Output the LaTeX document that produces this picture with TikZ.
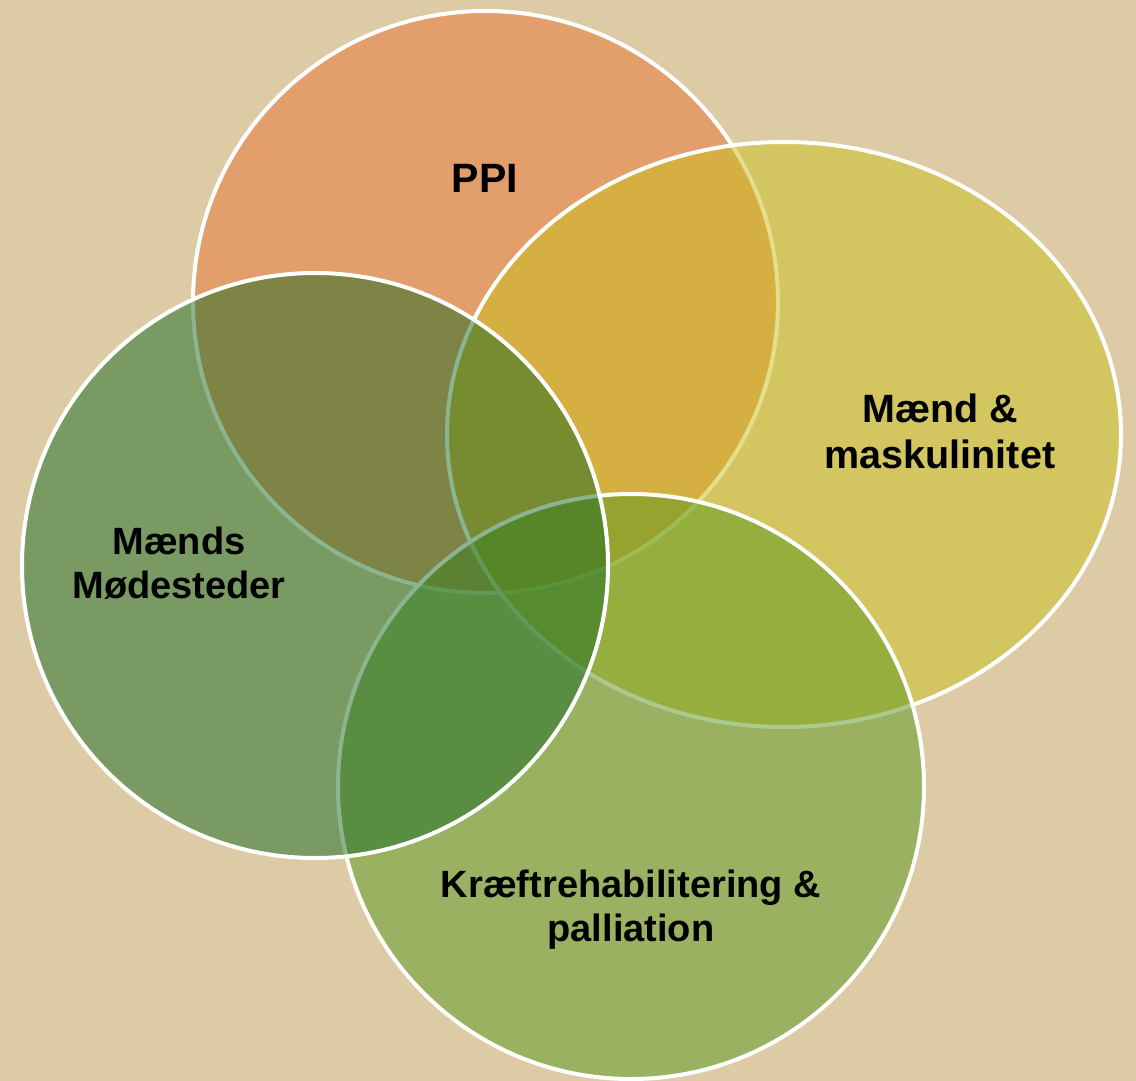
\documentclass[tikz,border=0pt]{standalone}
\usepackage{fontspec}
\setmainfont{Liberation Sans}
\usetikzlibrary{shapes.geometric}
\definecolor{beige}{RGB}{221,203,166}
\definecolor{ppiorange}{RGB}{231,115,50}
\definecolor{maendyellow}{RGB}{203,193,26}
\definecolor{kraeftgreen}{RGB}{89,153,30}
\definecolor{moedegreen}{RGB}{25,107,34}
\tikzstyle{venn} = [ellipse, inner sep=0pt, draw=white, line width=4pt, fill opacity=0.5]
\tikzstyle{vtext} = [align=center, text=black, font=\bfseries\fontsize{38}{44}\selectfont]

\begin{document}
\begin{tikzpicture}[x=1pt, y=-1pt]
		\useasboundingbox (0,0) rectangle (1136,1081);
		\fill [beige] (0,0) rectangle (1136,1081);
		\node (ppi) [venn, fill=ppiorange, minimum width=585pt, minimum height=582pt] at (485.5,302) {};
		\node (maend) [venn, fill=maendyellow, minimum width=674pt, minimum height=585pt] at (784,434.5) {};
		\node (kraeft) [venn, fill=kraeftgreen, minimum width=586pt, minimum height=585pt] at (631,786.5) {};
		\node (moede) [venn, fill=moedegreen, minimum width=586pt, minimum height=585pt] at (315,565.5) {};
		\node (ppitext) [vtext, font=\bfseries\fontsize{41}{48}\selectfont] at (485,178) {PPI};
		\node (maendtext) [vtext, font=\bfseries\fontsize{39.5}{46}\selectfont] at (940,431) {Mænd \&\\maskulinitet};
		\node (moedetext) [vtext] at (179,563) {Mænds\\Mødesteder};
		\node (kraefttext) [vtext] at (631,910) {Kræftrehabilitering \&\\palliation};
\end{tikzpicture}
\end{document}
